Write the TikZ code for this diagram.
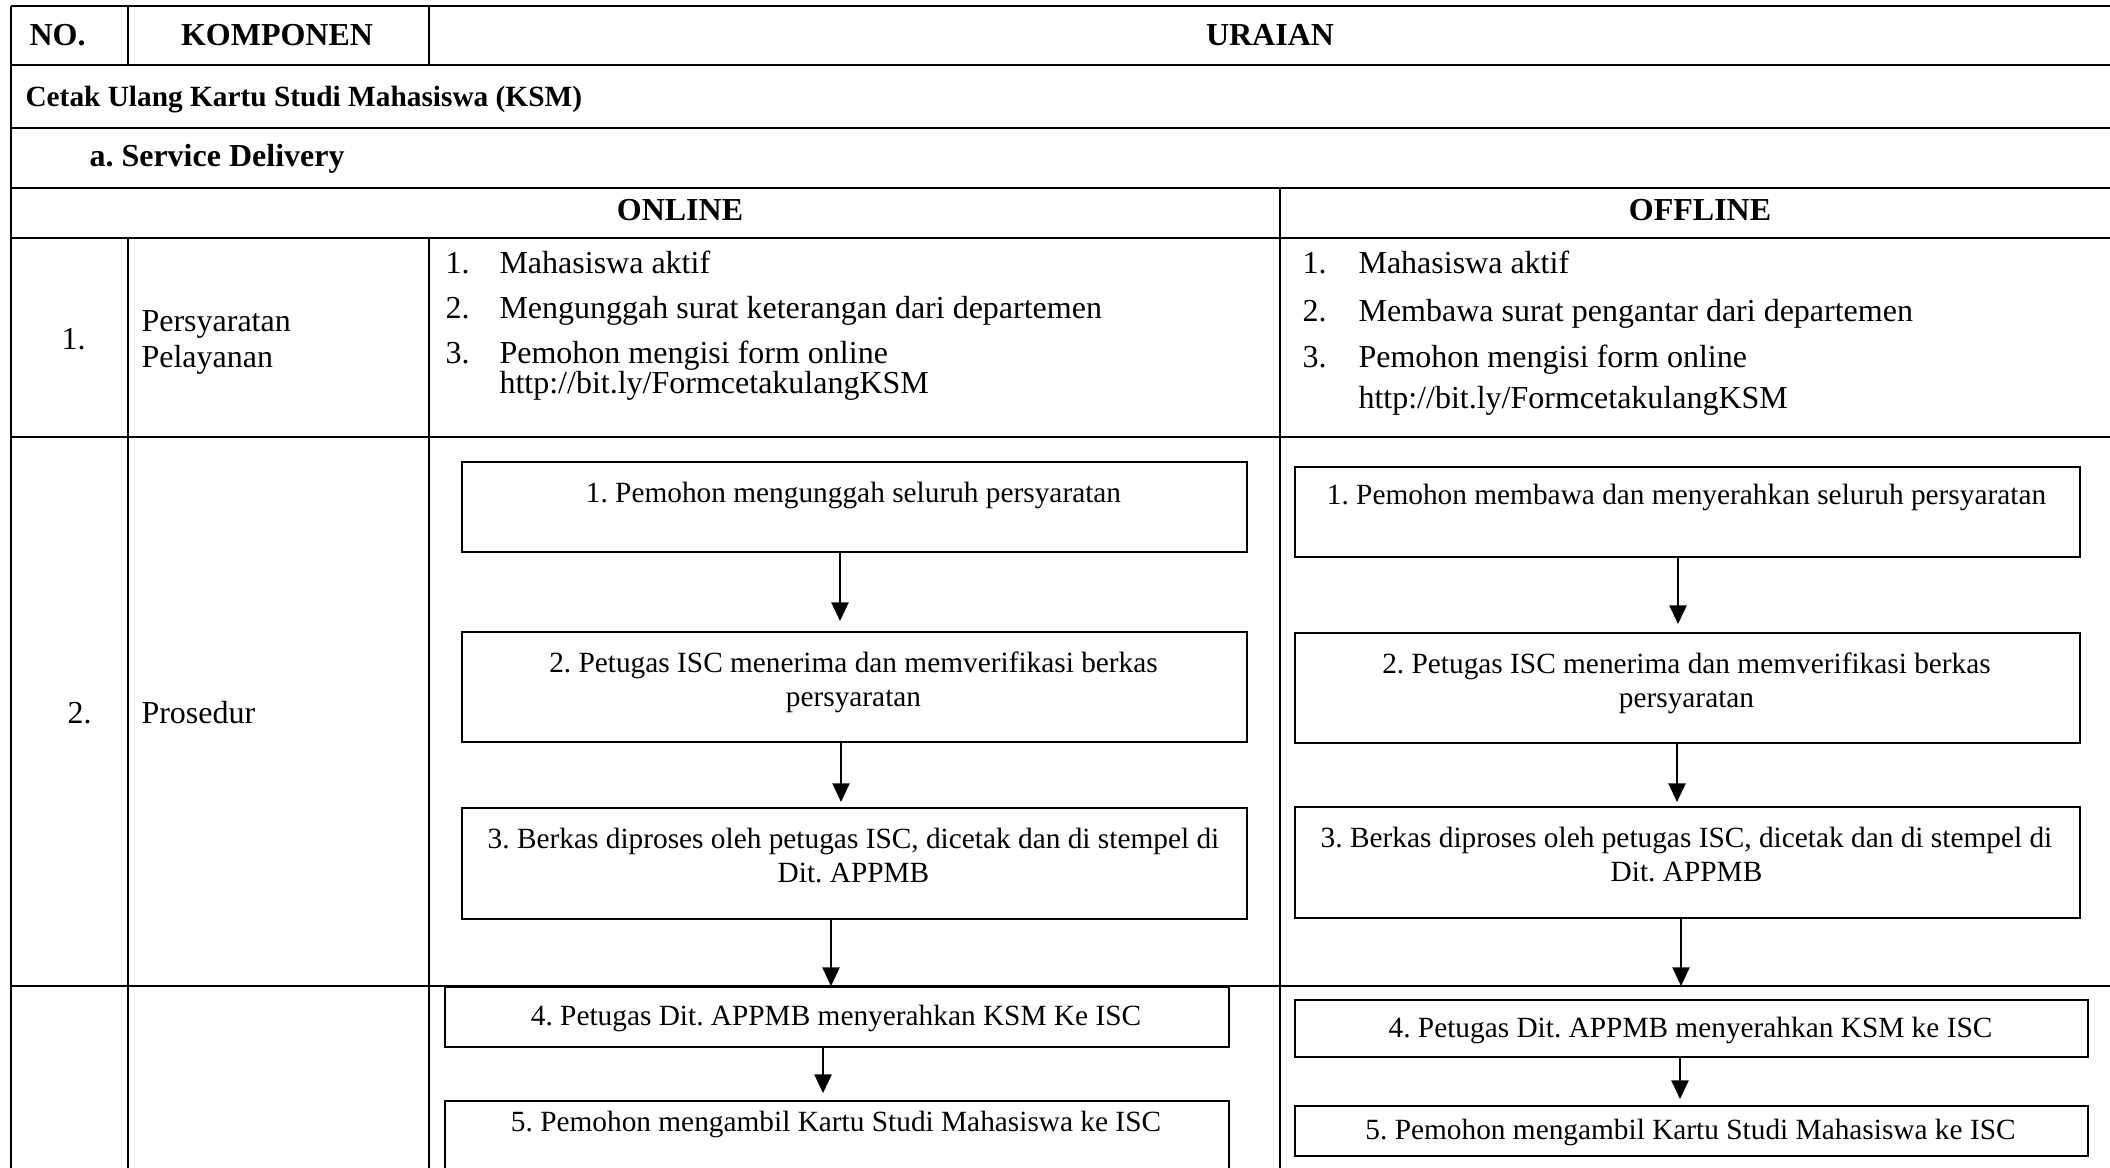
\documentclass[tikz,border=0pt]{standalone}
\usepackage{fontspec}
\setmainfont{Liberation Serif}
\usetikzlibrary{arrows.meta}
\frenchspacing

\begin{document}
\begin{tikzpicture}[x=0.375pt, y=-0.375pt,
  rule/.style={line width=0.5pt},
  txt/.style={font=\fontsize{12}{13.8}\selectfont, inner sep=0pt},
  hdr/.style={font=\fontsize{12}{13.8}\selectfont\bfseries, inner sep=0pt},
  stepbox/.style={draw, line width=0.85pt, inner sep=0pt, anchor=north west},
  boxtxt/.style={font=\fontsize{11}{12.75}\selectfont, inner sep=0pt, align=center, anchor=north},
  flow/.style={line width=0.55pt, -{Triangle[length=7pt,width=6.5pt]}}]

\useasboundingbox (0,0) rectangle (2110,1168);
\clip (0,0) rectangle (2110,1168);
\fill[white] (0,0) rectangle (2110,1168);

% table rules
\draw[rule] (11,6) -- (2110,6)
            (11,65) -- (2110,65)
            (11,128) -- (2110,128)
            (11,188) -- (2110,188)
            (11,238) -- (2110,238)
            (11,437) -- (2110,437)
            (11,986) -- (2110,986);
\draw[rule] (11,6) -- (11,1168)
            (128,6) -- (128,65) (128,238) -- (128,1168)
            (429,6) -- (429,65) (429,238) -- (429,1168)
            (1280,188) -- (1280,1168);

% header and section titles
\node[hdr, anchor=base west] (hno) at (29,46) {NO.};
\node[hdr, anchor=base] (hkomp) at (277,46) {KOMPONEN};
\node[hdr, anchor=base] (hurai) at (1270,46) {URAIAN};
\node[font=\fontsize{11}{12.6}\selectfont\bfseries, inner sep=0pt, anchor=base west] (judul) at (25,107) {Cetak Ulang Kartu Studi Mahasiswa (KSM)};
\node[hdr, anchor=base west] (sdel) at (89,167) {a. Service Delivery};
\node[hdr, anchor=base] (online) at (680,221) {ONLINE};
\node[hdr, anchor=base] (offline) at (1700,221) {OFFLINE};

% row 1: requirements
\node[txt, anchor=base west] (no1) at (61,350) {1.};
\node[txt, anchor=base west] (komp1a) at (141,332) {Persyaratan};
\node[txt, anchor=base west] (komp1b) at (141,368) {Pelayanan};

\node[txt, anchor=base west] (on1n) at (445,274) {1.};
\node[txt, anchor=base west] (on1) at (499,274) {Mahasiswa aktif};
\node[txt, anchor=base west] (on2n) at (445,319) {2.};
\node[txt, anchor=base west] (on2) at (499,319) {Mengunggah surat keterangan dari departemen};
\node[txt, anchor=base west] (on3n) at (445,364) {3.};
\node[txt, anchor=base west] (on3) at (499,364) {Pemohon mengisi form online};
\node[txt, anchor=base west] (on3u) at (499,394) {http://bit.ly/FormcetakulangKSM};

\node[txt, anchor=base west] (off1n) at (1302,274) {1.};
\node[txt, anchor=base west] (off1) at (1358,274) {Mahasiswa aktif};
\node[txt, anchor=base west] (off2n) at (1302,322) {2.};
\node[txt, anchor=base west] (off2) at (1358,322) {Membawa surat pengantar dari departemen};
\node[txt, anchor=base west] (off3n) at (1302,368) {3.};
\node[txt, anchor=base west] (off3) at (1358,368) {Pemohon mengisi form online};
\node[txt, anchor=base west] (off3u) at (1358,409) {http://bit.ly/FormcetakulangKSM};

% row 2: procedure
\node[txt, anchor=base west] (no2) at (67,723) {2.};
\node[txt, anchor=base west] (komp2) at (141,723) {Prosedur};

% online flow
\node[stepbox, minimum width=294.375pt, minimum height=33.75pt] (b1) at (461,461) {};
\node[stepbox, minimum width=294.375pt, minimum height=41.25pt] (b2) at (461,631) {};
\node[stepbox, minimum width=294.375pt, minimum height=41.625pt] (b3) at (461,807) {};
\node[stepbox, minimum width=294pt, minimum height=22.5pt] (b4) at (444,986) {};
\node[stepbox, minimum width=294pt, minimum height=37.5pt] (b5) at (444,1100) {};

\node[boxtxt] (b1t) at (853.5,482) {1. Pemohon mengunggah seluruh persyaratan};
\node[boxtxt] (b2t) at (853.5,651) {2. Petugas ISC menerima dan memverifikasi berkas\\persyaratan};
\node[boxtxt] (b3t) at (853.5,828) {3. Berkas diproses oleh petugas ISC, dicetak dan di stempel di\\Dit. APPMB};
\node[boxtxt] (b4t) at (836,1005) {4. Petugas Dit. APPMB menyerahkan KSM Ke ISC};
\node[boxtxt] (b5t) at (836,1111) {5. Pemohon mengambil Kartu Studi Mahasiswa ke ISC};

\coordinate (xa1) at (840,0);
\coordinate (xa2) at (841,0);
\coordinate (xa3) at (831,0);
\coordinate (xa4) at (823,0);
\draw[flow, shorten >=3.75pt] (b1.south -| xa1) -- (b2.north -| xa1);
\draw[flow, shorten >=1.9pt] (b2.south -| xa2) -- (b3.north -| xa2);
\draw[flow] (b3.south -| xa3) -- (b4.north -| xa3);
\draw[flow, shorten >=2.6pt] (b4.south -| xa4) -- (b5.north -| xa4);

% offline flow
\node[stepbox, minimum width=294.375pt, minimum height=33.75pt] (c1) at (1294,466) {};
\node[stepbox, minimum width=294.375pt, minimum height=41.25pt] (c2) at (1294,632) {};
\node[stepbox, minimum width=294.375pt, minimum height=41.625pt] (c3) at (1294,806) {};
\node[stepbox, minimum width=297.375pt, minimum height=21.375pt] (c4) at (1294,999) {};
\node[stepbox, minimum width=297.375pt, minimum height=18.75pt] (c5) at (1294,1105) {};

\node[boxtxt] (c1t) at (1686.5,484) {1. Pemohon membawa dan menyerahkan seluruh persyaratan};
\node[boxtxt] (c2t) at (1686.5,652) {2. Petugas ISC menerima dan memverifikasi berkas\\persyaratan};
\node[boxtxt] (c3t) at (1686.5,827) {3. Berkas diproses oleh petugas ISC, dicetak dan di stempel di\\Dit. APPMB};
\node[boxtxt] (c4t) at (1690.5,1017) {4. Petugas Dit. APPMB menyerahkan KSM ke ISC};
\node[boxtxt] (c5t) at (1690.5,1119) {5. Pemohon mengambil Kartu Studi Mahasiswa ke ISC};

\coordinate (xo1) at (1678,0);
\coordinate (xo2) at (1677,0);
\coordinate (xo3) at (1681,0);
\coordinate (xo4) at (1680,0);
\draw[flow, shorten >=3pt] (c1.south -| xo1) -- (c2.north -| xo1);
\draw[flow, shorten >=1.5pt] (c2.south -| xo2) -- (c3.north -| xo2);
\draw[flow, shorten >=4.9pt] (c3.south -| xo3) -- (c4.north -| xo3);
\draw[flow, shorten >=2.25pt] (c4.south -| xo4) -- (c5.north -| xo4);

\end{tikzpicture}
\end{document}
